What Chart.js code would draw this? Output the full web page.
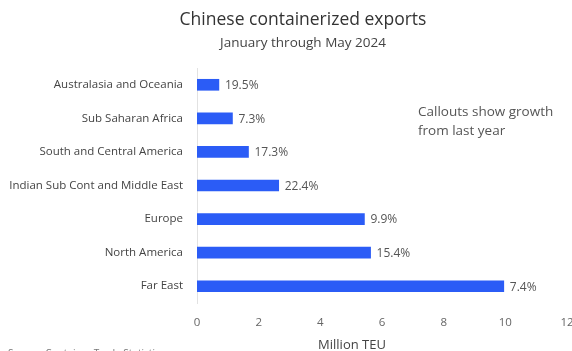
<!DOCTYPE html>
<html>
<head>
<meta charset="utf-8">
<script src="https://cdn.jsdelivr.net/npm/chart.js@4/dist/chart.umd.min.js"></script>
<style>
  html, body { margin: 0; padding: 0; background: #ffffff; }
  #wrap { width: 572px; height: 351px; position: relative; }
</style>
</head>
<body>
<div id="wrap"><canvas id="c" width="572" height="351"></canvas></div>
<script>
// Chinese containerized exports by destination region, Jan–May 2024
const regions = [
  'Australasia and Oceania',
  'Sub Saharan Africa',
  'South and Central America',
  'Indian Sub Cont and Middle East',
  'Europe',
  'North America',
  'Far East'
];
const millionTEU = [0.71, 1.15, 1.67, 2.65, 5.43, 5.63, 9.95];
const growthPct = [19.5, 7.3, 17.3, 22.4, 9.9, 15.4, 7.4];
const xTicks = [0, 2, 4, 6, 8, 10, 12];

const FONT = "'Open Sans', 'Noto Sans', sans-serif";
const BLUE = '#2B5CF6';

// Writes the growth callout to the right of each bar, using the x scale
const growthLabels = {
  id: 'growthLabels',
  afterDatasetsDraw(chart) {
    const ctx = chart.ctx;
    const meta = chart.getDatasetMeta(0);
    const xs = chart.scales.x;
    ctx.save();
    ctx.font = '12px ' + FONT;
    ctx.fillStyle = '#555555';
    ctx.textAlign = 'left';
    ctx.textBaseline = 'middle';
    meta.data.forEach((bar, i) => {
      const x = xs.getPixelForValue(millionTEU[i]) + 6;
      ctx.fillText(growthPct[i].toFixed(1) + '%', x, bar.y + 1);
    });
    ctx.restore();
  }
};

// Title, subtitle, axis title, note and source line
const annotations = {
  id: 'annotations',
  afterDraw(chart) {
    const ctx = chart.ctx;
    ctx.save();
    ctx.textBaseline = 'middle';
    ctx.textAlign = 'center';
    ctx.fillStyle = '#333333';
    ctx.font = '17.5px ' + FONT;
    ctx.fillText('Chinese containerized exports', 303, 20);
    ctx.font = '13.5px ' + FONT;
    ctx.fillStyle = '#444444';
    ctx.fillText('January through May 2024', 303, 43);

    ctx.font = '13px ' + FONT;
    ctx.fillText('Million TEU', 352, 345);

    ctx.textAlign = 'left';
    ctx.fillStyle = '#555555';
    ctx.font = '13.5px ' + FONT;
    ctx.fillText('Callouts show growth', 418, 112);
    ctx.fillText('from last year', 418, 131);

    ctx.fillStyle = '#777777';
    ctx.font = '10px ' + FONT;
    ctx.fillText('Source: Container Trade Statistics', 8, 354);
    ctx.restore();
  }
};

new Chart(document.getElementById('c'), {
  type: 'bar',
  data: {
    labels: regions,
    datasets: [{
      data: millionTEU,
      backgroundColor: BLUE,
      borderWidth: 0,
      barThickness: 11
    }]
  },
  plugins: [growthLabels, annotations],
  options: {
    indexAxis: 'y',
    responsive: false,
    animation: false,
    layout: { padding: { top: 68, right: 5, left: 0, bottom: 0 } },
    plugins: {
      legend: { display: false },
      tooltip: { enabled: false },
      title: { display: false }
    },
    scales: {
      x: {
        min: 0,
        max: 12,
        afterBuildTicks(scale) {
          scale.ticks = xTicks.map(v => ({ value: v }));
        },
        afterFit(scale) {
          scale.height = 48;
          scale.paddingRight = 0;
          scale.paddingLeft = 0;
        },
        grid: { display: false, drawTicks: false },
        border: { display: false },
        ticks: {
          padding: 13,
          color: '#666666',
          font: { family: FONT, size: 11.5 }
        }
      },
      y: {
        afterFit(scale) { scale.width = 197; },
        grid: { display: false, drawTicks: false },
        border: { display: true, color: '#e2e2e2', width: 1 },
        ticks: {
          padding: 14,
          color: '#444444',
          font: { family: FONT, size: 11.5 }
        }
      }
    }
  }
});
</script>
</body>
</html>
